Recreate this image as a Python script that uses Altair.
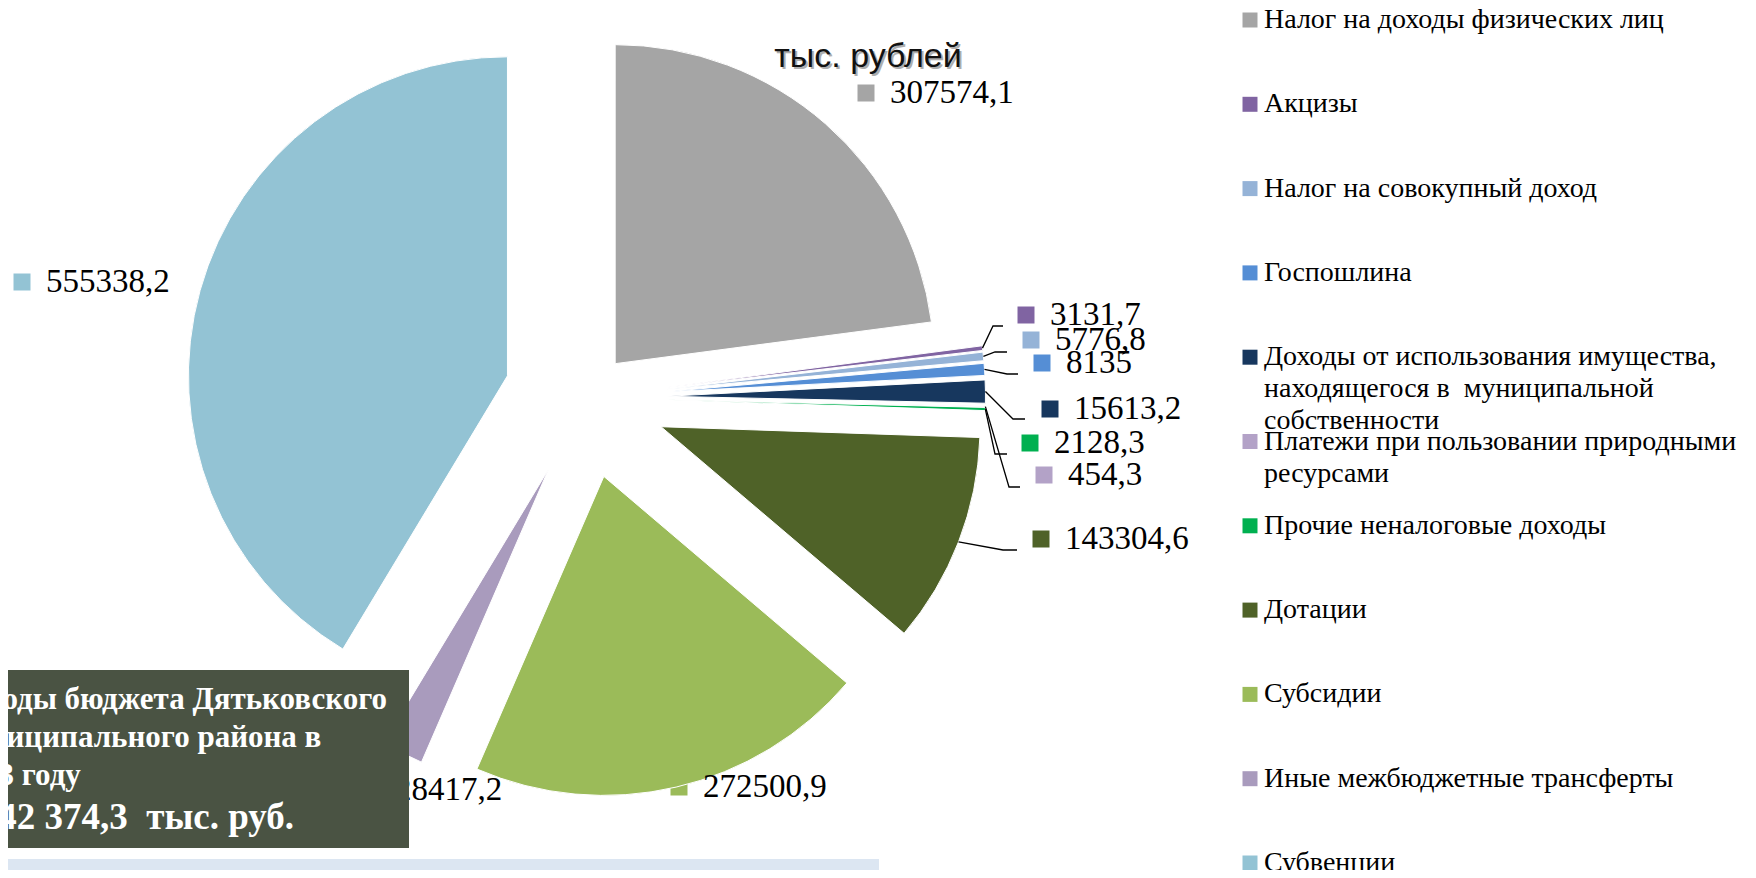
import math
import altair as alt
import pandas as pd

# ---------------- data ----------------
names = [
    "Налог на доходы физических лиц",
    "Акцизы",
    "Налог на совокупный доход",
    "Госпошлина",
    "Доходы от использования имущества, находящегося в  муниципальной собственности",
    "Платежи при пользовании природными ресурсами",
    "Прочие неналоговые доходы",
    "Дотации",
    "Субсидии",
    "Иные межбюджетные трансферты",
    "Субвенции",
]
values = [307574.1, 3131.7, 5776.8, 8135.0, 15613.2, 454.3, 2128.3,
          143304.6, 272500.9, 28417.2, 555338.2]
value_labels = ["307574,1", "3131,7", "5776,8", "8135", "15613,2", "454,3",
                "2128,3", "143304,6", "272500,9", "28417,2", "555338,2"]
legend_texts = [
    "Налог на доходы физических лиц",
    "Акцизы",
    "Налог на совокупный доход",
    "Госпошлина",
    "Доходы от использования имущества,\nнаходящегося в\u00a0 муниципальной\nсобственности",
    "Платежи при пользовании природными\nресурсами",
    "Прочие неналоговые доходы",
    "Дотации",
    "Субсидии",
    "Иные межбюджетные трансферты",
    "Субвенции",
]
colors = ["#A5A5A5", "#8064A2", "#95B3D7", "#558ED5", "#17375E", "#B3A2C7",
          "#00B050", "#4F6228", "#9BBB59", "#A99BBD", "#93C3D4"]
unit_title = "тыс. рублей"
box_lines = "Доходы бюджета Дятьковского\nмуниципального района в\n2013 году"
box_total = "1 342 374,3\u00a0 тыс. руб."

# ---------------- layout (pixels) ----------------
W, H = 1740, 862
CX, CY, R = 577.5, 389.5, 319
explode_px = [45, 81, 81, 81, 81, 81, 81, 81, 81, 81, 81]
label_sq = [(858, 85), (1018, 307), (1023, 332), (1034, 355), (1042, 401),
            (1036, 467), (1022, 435), (1033, 531), (671, 779), (363, 782), (14, 274)]
leader_pts = {1: [(985, 318), (995, 318)],
              2: [(987, 344), (999, 344)],
              3: [(999, 366), (1010, 366)],
              4: [(1005, 411), (1017, 411)],
              5: [(1001, 479), (1012, 479)],
              6: [(987, 446), (999, 446)],
              7: [(995, 542), (1009, 542)]}

total = sum(values)
rows = []
cum = 0.0
for i, (n, v) in enumerate(zip(names, values)):
    t0, t1 = cum, cum + v
    cum = t1
    a = (t0 + t1) / 2 / total * 2 * math.pi
    cx = CX + explode_px[i] * math.sin(a)
    cy = CY - explode_px[i] * math.cos(a)
    rows.append(dict(name=n, t0=t0, t1=t1, cx=cx, cy=cy, ang=a,
                     lab=value_labels[i], sx=label_sq[i][0], sy=label_sq[i][1],
                     tx=label_sq[i][0] + 24, idx=i, leg=legend_texts[i]))
df = pd.DataFrame(rows)

lead_rows = []
for i, pts in leader_pts.items():
    r = rows[i]
    sx = r["cx"] + R * math.sin(r["ang"])
    sy = r["cy"] - R * math.cos(r["ang"])
    allp = [(sx, sy)] + pts
    for k, (px, py) in enumerate(allp):
        lead_rows.append(dict(name=r["name"], seq=k, px=px, py=py))
df_lead = pd.DataFrame(lead_rows)

color_scale = alt.Scale(domain=names, range=colors)
X = lambda f: alt.X(f, type="quantitative", scale=None, axis=None)
Y = lambda f: alt.Y(f, type="quantitative", scale=None, axis=None)

base = alt.Chart(df)

squares = base.mark_square(size=289, opacity=1).encode(
    x=X("sx"), y=Y("sy"),
    color=alt.Color("name:N", scale=color_scale, legend=None))

pie = base.mark_arc(radius=R, stroke="white", strokeWidth=1).encode(
    theta=alt.Theta("t0:Q", scale=alt.Scale(domain=[0, total])),
    theta2="t1:Q",
    x=X("cx"), y=Y("cy"),
    color=alt.Color("name:N", scale=color_scale, legend=None),
    order=alt.Order("idx:Q"))

leaders = alt.Chart(df_lead).mark_line(color="black", strokeWidth=1.3).encode(
    x=X("px"), y=Y("py"), detail="name:N", order="seq:Q")

labels = base.mark_text(align="left", baseline="middle", font="Liberation Serif",
                        fontSize=33, color="black").encode(
    x=X("tx"), y=Y("sy"), text="lab:N")

title = alt.Chart(pd.DataFrame({"t": [unit_title]}))
title_shadow = title.mark_text(font="Liberation Sans", fontSize=34, color="#9a9a9a",
                               align="center", baseline="middle", opacity=0.8).encode(
    x=alt.value(862), y=alt.value(51), text="t:N")
title_txt = title.mark_text(font="Liberation Sans", fontSize=34, color="#111111",
                            align="center", baseline="middle").encode(
    x=alt.value(860), y=alt.value(49), text="t:N")

box_df = pd.DataFrame({"a": [box_lines], "b": [box_total]})
box = alt.Chart(box_df).mark_rect(color="#4A5343", clip=True).encode(
    x=alt.value(-60), x2=alt.value(401), y=alt.value(662), y2=alt.value(840))
box_t1 = alt.Chart(box_df).mark_text(
    font="Liberation Serif", fontWeight="bold", fontSize=31, color="white",
    align="left", baseline="top", lineBreak="\n", lineHeight=38, clip=True).encode(
    x=alt.value(-56), y=alt.value(677), text="a:N")
box_t2 = alt.Chart(box_df).mark_text(
    font="Liberation Serif", fontWeight="bold", fontSize=37, color="white",
    align="left", baseline="middle", clip=True).encode(
    x=alt.value(-56), y=alt.value(810), text="b:N")

band = alt.Chart(box_df).mark_rect(color="#DCE6F2").encode(
    x=alt.value(0), x2=alt.value(871), y=alt.value(851), y2=alt.value(872))

ly = alt.Y("idx:Q", scale=alt.Scale(domain=[0, 10], range=[12, 855]), axis=None)
leg_sq = base.mark_square(size=225, opacity=1).encode(
    x=alt.value(1242), y=ly,
    color=alt.Color("name:N", scale=color_scale, legend=None))
leg_txt = base.mark_text(font="Liberation Serif", fontSize=28, color="black",
                         align="left", baseline="top", dy=-14, lineBreak="\n",
                         lineHeight=32).encode(
    x=alt.value(1256), y=ly, text="leg:N")

chart = alt.layer(
    squares, pie, leaders, labels, title_shadow, title_txt,
    box, box_t1, box_t2, band, leg_sq, leg_txt
).resolve_scale(x="independent", y="independent").properties(
    width=W, height=H, padding=0, autosize=alt.AutoSizeParams(type="none")
).configure_view(strokeWidth=0)

chart.save("out.html", embed_options={"renderer": "svg", "actions": False})
